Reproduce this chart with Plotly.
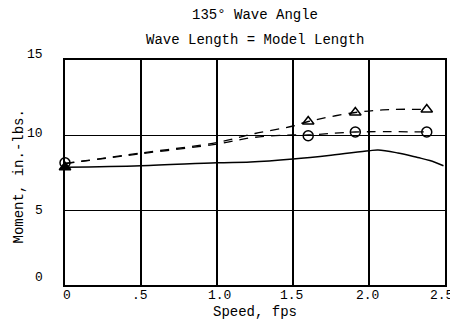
import plotly.graph_objects as go

# Data
speed_pts = [0, 1.6, 1.91, 2.38]
tri_pts = [7.85, 10.9, 11.5, 11.7]
circ_pts = [8.15, 9.95, 10.2, 10.2]

tri_curve_x = [0, 0.5, 1.0, 1.25, 1.5, 1.6, 1.91, 2.15, 2.38]
tri_curve_y = [8.1, 8.8, 9.5, 10.1, 10.6, 10.9, 11.5, 11.7, 11.7]

circ_curve_x = [0, 0.5, 1.0, 1.25, 1.5, 1.6, 1.91, 2.38]
circ_curve_y = [8.1, 8.75, 9.4, 9.85, 10.0, 10.0, 10.2, 10.2]

solid_x = [0, 0.5, 1.0, 1.22, 1.5, 1.75, 2.0, 2.06, 2.19, 2.32, 2.4, 2.49]
solid_y = [7.85, 7.95, 8.15, 8.2, 8.4, 8.65, 8.95, 9.0, 8.8, 8.5, 8.3, 7.95]

x_ticks = [0, 0.5, 1.0, 1.5, 2.0, 2.5]
x_ticklabels = ["0", ".5", "1.0", "1.5", "2.0", "2.5"]
y_ticks = [0, 5, 10, 15]
y_ticklabels = ["0", "5", "10", "15"]

title_lines = ["135° Wave Angle", "Wave Length = Model Length"]
x_title = "Speed, fps"
y_title = "Moment, in.-lbs."

FONT = "Liberation Mono"
TXT = dict(family=FONT, size=14, color="black")
TICK = dict(family=FONT, size=13, color="black")

fig = go.Figure()
fig.add_trace(go.Scatter(x=solid_x, y=solid_y, mode="lines", line=dict(color="black", width=1.4, shape="spline"),
                         showlegend=False))
fig.add_trace(go.Scatter(x=tri_curve_x, y=tri_curve_y, mode="lines",
                         line=dict(color="black", width=1.3, dash="9px,7px", shape="spline"), showlegend=False))
fig.add_trace(go.Scatter(x=circ_curve_x, y=circ_curve_y, mode="lines",
                         line=dict(color="black", width=1.3, dash="9px,7px", shape="spline"), showlegend=False))
fig.add_trace(go.Scatter(x=speed_pts, y=circ_pts, mode="markers", cliponaxis=False,
                         marker=dict(symbol="circle-open", size=10, color="black", line=dict(width=1.5)),
                         showlegend=False))
fig.add_trace(go.Scatter(x=speed_pts, y=tri_pts, mode="markers", cliponaxis=False,
                         marker=dict(symbol=["triangle-up"] + ["triangle-up-open"] * 3, size=10, color="black",
                                     line=dict(width=1.5, color="black")),
                         showlegend=False))

common = dict(xref="paper", yref="paper", showarrow=False, font=TXT, xanchor="center", yanchor="middle")
fig.add_annotation(text=title_lines[0], x=0.5, y=1, yshift=45, **common)
fig.add_annotation(text=title_lines[1], x=0.5, y=1, yshift=20, **common)
fig.add_annotation(text=x_title, x=0.5, y=0, yshift=-27, **common)
fig.add_annotation(text=y_title, x=0, y=0.5, xshift=-47, yshift=-4, textangle=-90, **common)

# tick labels placed as in the scanned original
label_lift = {0: 8, 5: 0, 10: 2, 15: 6}
for v, t in zip(y_ticks, y_ticklabels):
    fig.add_annotation(text=t, x=0, xref="paper", y=v, yref="y", xanchor="right", yanchor="middle",
                       xshift=-20, yshift=label_lift[v], showarrow=False, font=TICK)
x_nudge = {0: 2, 0.5: -1, 1.0: 2, 1.5: -2, 2.0: -2, 2.5: -4}
for v, t in zip(x_ticks, x_ticklabels):
    fig.add_annotation(text=t, x=v, xref="x", y=0, yref="paper", xanchor="center", yanchor="middle",
                       xshift=x_nudge[v], yshift=-10, showarrow=False, font=TICK)

fig.update_xaxes(range=[0, 2.5], tickvals=x_ticks, showticklabels=False, showgrid=True, gridcolor="black",
                 gridwidth=1.6, showline=True, linecolor="black", linewidth=2, mirror=True, ticks="",
                 zeroline=False, automargin=False)
fig.update_yaxes(range=[0, 15], tickvals=y_ticks, showticklabels=False, showgrid=True, gridcolor="black",
                 gridwidth=1.2, showline=True, linecolor="black", linewidth=2, mirror=True, ticks="",
                 zeroline=False, automargin=False)

# page body has an 8px default margin, so the figure is offset by (8, 8)
fig.update_layout(width=450, height=314, margin=dict(l=57, r=13, t=52, b=37),
                  plot_bgcolor="white", paper_bgcolor="white", font=dict(family=FONT, color="black"))

fig.write_html("out.html")
